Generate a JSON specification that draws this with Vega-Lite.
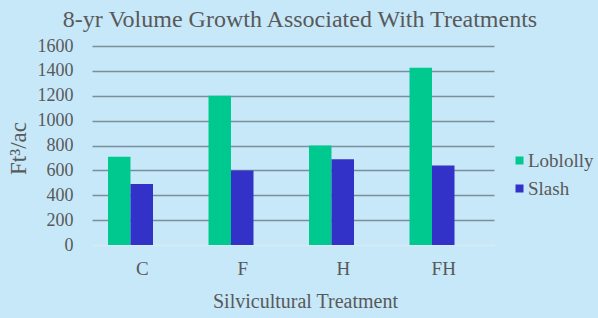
{
  "$schema": "https://vega.github.io/schema/vega-lite/v6.json",
  "width": 402,
  "height": 199,
  "autosize": {"type": "none"},
  "padding": {"left": 92, "top": 46, "right": 104, "bottom": 73},
  "background": "#c6e8f9",
  "title": {
    "text": "8-yr Volume Growth Associated With Treatments",
    "font": "Liberation Serif",
    "fontSize": 24,
    "fontWeight": "normal",
    "color": "#595959",
    "anchor": "middle",
    "offset": 5,
    "dx": 7
  },
  "data": {
    "values": [
      {"treatment": "C", "species": "Loblolly", "volume": 710},
      {"treatment": "C", "species": "Slash", "volume": 490},
      {"treatment": "F", "species": "Loblolly", "volume": 1200},
      {"treatment": "F", "species": "Slash", "volume": 600},
      {"treatment": "H", "species": "Loblolly", "volume": 800},
      {"treatment": "H", "species": "Slash", "volume": 690},
      {"treatment": "FH", "species": "Loblolly", "volume": 1425},
      {"treatment": "FH", "species": "Slash", "volume": 640}
    ]
  },
  "mark": {"type": "bar"},
  "encoding": {
    "x": {
      "field": "treatment",
      "type": "nominal",
      "sort": ["C", "F", "H", "FH"],
      "scale": {"paddingInner": 0, "paddingOuter": 0},
      "axis": {
        "title": "Silvicultural Treatment",
        "labelAngle": 0,
        "labelFont": "Liberation Serif",
        "labelFontSize": 19,
        "labelColor": "#595959",
        "labelPadding": 14,
        "ticks": false,
        "domain": false,
        "titleFont": "Liberation Serif",
        "titleFontSize": 20,
        "titleFontWeight": "normal",
        "titleColor": "#595959",
        "titlePadding": 13,
        "titleX": 213
      }
    },
    "xOffset": {
      "field": "species",
      "type": "nominal",
      "scale": {"range": [16, 61], "paddingInner": 0, "paddingOuter": 0}
    },
    "y": {
      "field": "volume",
      "type": "quantitative",
      "scale": {"domain": [0, 1600], "nice": false},
      "axis": {
        "values": [0, 200, 400, 600, 800, 1000, 1200, 1400, 1600],
        "format": "d",
        "title": "Ft³/ac",
        "labelFont": "Liberation Serif",
        "labelFontSize": 18,
        "labelColor": "#595959",
        "labelPadding": 19,
        "ticks": false,
        "domain": false,
        "gridColor": {"condition": {"test": "datum.value === 0", "value": "#d8eaf3"}, "value": "#7b8f9b"},
        "gridWidth": 1.3,
        "titleFont": "Liberation Serif",
        "titleFontSize": 23,
        "titleFontWeight": "normal",
        "titleColor": "#595959",
        "titleAngle": -90,
        "titleAlign": "center",
        "titleBaseline": "middle",
        "titleX": -74,
        "titleY": 102
      }
    },
    "color": {
      "field": "species",
      "type": "nominal",
      "scale": {"domain": ["Loblolly", "Slash"], "range": ["#00c98f", "#3232c8"]},
      "legend": {
        "title": null,
        "orient": "none",
        "legendX": 418,
        "legendY": 105,
        "padding": 0,
        "symbolType": "square",
        "symbolSize": 64,
        "symbolStrokeWidth": 0,
        "labelFont": "Liberation Serif",
        "labelFontSize": 19,
        "labelColor": "#595959",
        "labelOffset": -1,
        "rowPadding": 8
      }
    }
  },
  "config": {
    "view": {"stroke": null},
    "axis": {"labelFont": "Liberation Serif"},
    "legend": {"labelFont": "Liberation Serif"}
  }
}
